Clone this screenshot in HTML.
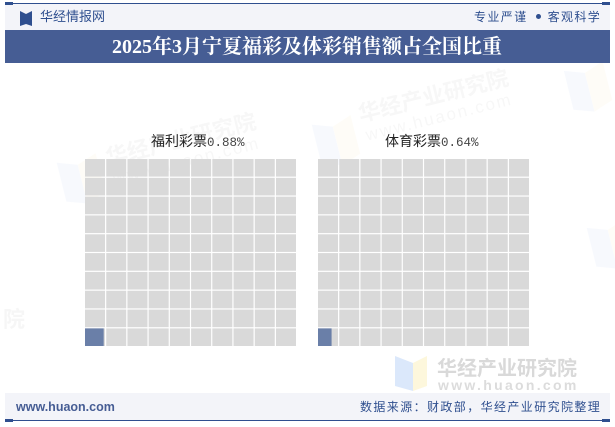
<!DOCTYPE html>
<html lang="zh"><head><meta charset="utf-8"><title>2025年3月宁夏福彩及体彩销售额占全国比重</title>
<style>
html,body{margin:0;padding:0;background:#fff}
#page{position:relative;width:615px;height:427px;overflow:hidden;background:#fff;font-family:"Liberation Sans","Noto Sans CJK SC",sans-serif}
.a{position:absolute;white-space:nowrap}
svg{position:absolute;left:0;top:0}
</style></head><body>
<div id="page">
<svg id="bg" width="615" height="427">
 <g transform="rotate(-14 400 115)" opacity="0.035">
  <polygon points="312,103 332,110 332,150 312,143" fill="#3b7be0"/><polygon points="332,110 352,103 352,143 332,150" fill="#eec94a"/>
  <text x="360" y="112" font-size="22" font-weight="700" fill="#333" font-family="Liberation Sans,Noto Sans CJK SC,sans-serif">华经产业研究院</text>
  <text x="362" y="132" font-size="17" fill="#333" letter-spacing="2" font-family="Liberation Sans,sans-serif">www.huaon.com</text>
 </g>
 <g transform="rotate(-14 170 150)" opacity="0.035">
  <polygon points="57,135 77,142 77,182 57,175" fill="#3b7be0"/><polygon points="77,142 97,135 97,175 77,182" fill="#eec94a"/>
  <text x="106" y="150" font-size="22" font-weight="700" fill="#333" font-family="Liberation Sans,Noto Sans CJK SC,sans-serif">华经产业研究院</text>
  <text x="108" y="170" font-size="17" fill="#333" letter-spacing="2" font-family="Liberation Sans,sans-serif">www.huaon.com</text>
 </g>
 <g transform="rotate(-14 590 85)" opacity="0.035">
  <polygon points="568,65 588,72 588,112 568,105" fill="#3b7be0"/><polygon points="588,72 608,65 608,105 588,112" fill="#eec94a"/>
 </g>
 <g transform="rotate(-14 600 240)" opacity="0.035">
  <polygon points="590,225 610,232 610,272 590,265" fill="#3b7be0"/><polygon points="610,232 630,225 630,265 610,272" fill="#eec94a"/>
 </g>
 <text x="3" y="327" font-size="22" font-weight="700" fill="#333" opacity="0.04" font-family="Liberation Sans,Noto Sans CJK SC,sans-serif">院</text>
 <g>
  <polygon points="395,356 413,363 413,391 395,386" fill="#dbe8fb"/><polygon points="413,363 427,356 427,386 413,391" fill="#fdf7dc"/>
  <text x="437" y="375" font-size="20" font-weight="700" fill="#d9d9d9" font-family="Liberation Sans,Noto Sans CJK SC,sans-serif">华经产业研究院</text>
  <text x="438" y="390" font-size="14" font-weight="700" fill="#dcdcdc" letter-spacing="2.3" font-family="Liberation Sans,sans-serif">www.huaon.com</text>
 </g>
</svg>

<div class="a" style="left:5px;top:3px;width:605px;height:27px;background:#f3f4f9"></div>
<div class="a" style="left:5px;top:3px;width:605px;height:1px;background:#2f4f8f"></div>
<div class="a" style="left:5px;top:2px;width:8px;height:3px;background:#2f4f8f"></div>
<div class="a" style="left:602px;top:2px;width:8px;height:3px;background:#2f4f8f"></div>
<svg width="615" height="40">
 <polygon points="20,11 26,14 26,24 20,26" fill="#2f4f8f"/><polygon points="26,14 32,11 32,26 26,24" fill="#2f4f8f"/>
</svg>
<div class="a" style="left:40px;top:8px;font-size:13px;line-height:18px;color:#2f4f8f">华经情报网</div>
<div class="a" style="left:474px;top:8px;font-size:12px;line-height:18px;letter-spacing:1.4px;color:#2f4f8f">专业严谨<span style="display:inline-block;width:5px;height:5px;border-radius:50%;background:#2f4f8f;margin:0 7px 2px 8px"></span>客观科学</div>
<div class="a" style="left:5px;top:30px;width:605px;height:33px;background:#465d94"></div>
<div class="a" style="left:112px;top:34px;font-family:'Liberation Serif','Noto Serif CJK SC',serif;font-weight:700;font-size:20px;line-height:26px;color:#fff">2025年3月宁夏福彩及体彩销售额占全国比重</div>

<svg id="chart" width="615" height="427"></svg>

<div class="a" style="left:5px;top:393px;width:605px;height:27px;background:#f3f4f9"></div>
<div class="a" style="left:5px;top:420px;width:605px;height:1px;background:#2f4f8f"></div>
<div class="a" style="left:5px;top:419px;width:8px;height:3px;background:#2f4f8f"></div>
<div class="a" style="left:602px;top:419px;width:8px;height:3px;background:#2f4f8f"></div>
<div class="a" style="left:16px;top:398px;font-size:12.5px;line-height:18px;color:#465d94;font-weight:700">www.huaon.com</div>
<div class="a" style="left:360px;top:398px;font-size:12px;line-height:18px;letter-spacing:1.4px;color:#2f4f8f">数据来源：财政部，华经产业研究院整理</div>
</div>
<script>
const categories = ['福利彩票', '体育彩票'];
const shareValues = [0.88, 0.64];
const gridColumns = 10;
const gridRows = 10;
const unitPerCell = 1;

const chartSvg = document.getElementById('chart');
const NS = 'http://www.w3.org/2000/svg';
const panelLeft = [85, 318];
const panelTop = 159;
const panelW = 211;
const panelH = 187;
const gap = 1.2;
const labelOffset = 66;
const colX = (c, i) => panelLeft[c] + i * (panelW + gap) / gridColumns;
const rowY = r => panelTop + r * (panelH + gap) / gridRows;
const cellW = (panelW + gap) / gridColumns - gap;
const cellH = (panelH + gap) / gridRows - gap;

categories.forEach((name, c) => {
  for (let r = 0; r < gridRows; r++) {
    for (let i = 0; i < gridColumns; i++) {
      const cell = document.createElementNS(NS, 'rect');
      
      
      cell.setAttribute('x', colX(c, i));
      cell.setAttribute('y', rowY(r));
      cell.setAttribute('width', cellW);
      cell.setAttribute('height', cellH);
      cell.setAttribute('fill', '#d9d9d9');
      chartSvg.appendChild(cell);
    }
  }
  const total = shareValues[c] / unitPerCell;
  for (let k = 0; k < Math.ceil(total); k++) {
    const frac = Math.min(1, total - k);
    const row = gridRows - 1 - Math.floor(k / gridColumns);
    const fill = document.createElementNS(NS, 'rect');
    
    
    fill.setAttribute('x', colX(c, k % gridColumns));
    fill.setAttribute('y', rowY(row));
    fill.setAttribute('width', frac * (cellW + gap));
    fill.setAttribute('height', cellH);
    fill.setAttribute('fill', '#6a7fa8');
    chartSvg.appendChild(fill);
  }
  const label = document.createElementNS(NS, 'text');
  
  
  label.setAttribute('x', panelLeft[c] + labelOffset + (c === 1 ? 1 : 0));
  label.setAttribute('y', 146);
  label.setAttribute('fill', '#222');
  label.setAttribute('font-size', '14');
  label.setAttribute('font-family', '"WenQuanYi Zen Hei", "Noto Sans CJK SC", sans-serif');
  label.textContent = name;
  const val = document.createElementNS(NS, 'tspan');
  
  
  val.setAttribute('font-family', '"Liberation Mono", monospace');
  val.setAttribute('font-size', '12.5');
  val.setAttribute('fill', '#444');
  val.textContent = shareValues[c].toFixed(2) + '%';
  label.appendChild(val);
  chartSvg.appendChild(label);
});
</script>
</body></html>
